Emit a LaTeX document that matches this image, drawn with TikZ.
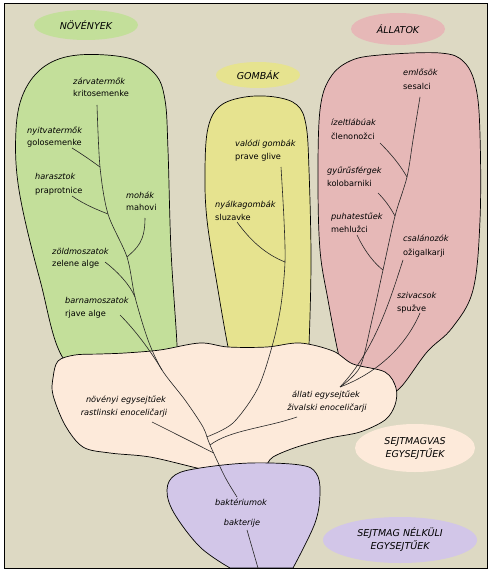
\documentclass[tikz,border=0pt]{standalone}
\usepackage{fontspec}
\setmainfont{DejaVu Sans}
\usetikzlibrary{shapes.geometric}
\definecolor{bg}{HTML}{DDD9C3}
\definecolor{grn}{HTML}{C3DF9A}
\definecolor{ylw}{HTML}{E6E38F}
\definecolor{pnk}{HTML}{E6B8B7}
\definecolor{pch}{HTML}{FDEADA}
\definecolor{lav}{HTML}{D2C6E8}
\tikzset{
  blob/.style={draw=black, line width=0.7pt},
  branch/.style={draw=black!85, line width=0.6pt},
  hu/.style={anchor=base west, font=\fontsize{8.2}{10}\selectfont\itshape, inner sep=0pt},
  sl/.style={anchor=base west, font=\fontsize{8.2}{10}\selectfont, inner sep=0pt},
  huc/.style={anchor=base, font=\fontsize{8.2}{10}\selectfont\itshape, inner sep=0pt},
  ttl/.style={ellipse, inner sep=0pt, align=center, font=\fontsize{9.5}{13}\selectfont\itshape},
}
\begin{document}
\begin{tikzpicture}[x=1pt,y=-1pt]
\useasboundingbox (0,0) rectangle (491,572);
\fill[white] (0,0) rectangle (491,572);
\fill[bg] (4,3) rectangle (487,568);

% title ellipses
\node[ttl, fill=grn, minimum width=104pt, minimum height=30pt] (tnov) at (86,25) {NÖVÉNYEK};
\node[ttl, fill=ylw, minimum width=84pt, minimum height=26pt] (tgom) at (258,75) {GOMBÁK};
\node[ttl, fill=pnk, minimum width=94pt, minimum height=32pt] (tall) at (398,29) {ÁLLATOK};
\node[ttl, fill=pch, minimum width=120pt, minimum height=48pt] (tsej) at (415,448) {SEJTMAGVAS\\EGYSEJTŰEK};
\node[ttl, fill=lav, minimum width=154pt, minimum height=46pt] (tnel) at (400,540) {SEJTMAG NÉLKÜLI\\EGYSEJTŰEK};

% kingdoms
\path[blob, fill=grn] plot[smooth cycle, tension=0.6] coordinates {(66,362) (40,280) (19,190) (16,130) (24,92) (45,66) (78,55) (128,58) (155,74) (165,100) (168,150) (171,250) (177,345) (176,366) (120,372)};
\path[blob, fill=ylw] plot[smooth cycle, tension=0.6] coordinates {(233,366) (228,347) (218,290) (207,220) (205,170) (208,128) (220,106) (245,97) (275,97) (297,105) (306,125) (309,170) (311,260) (309,345) (307,366) (270,372)};
\path[blob, fill=pnk] plot[smooth cycle, tension=0.6] coordinates {(344,372) (338,352) (328,300) (320,250) (318,180) (320,110) (330,78) (350,61) (380,55) (440,53) (464,62) (476,88) (480,135) (480,220) (473,290) (452,328) (427,352) (400,388) (385,392) (360,382)};
\path[blob, fill=pch] plot[smooth cycle, tension=0.55] coordinates {(53,378) (58,361) (75,355) (100,354) (125,353) (160,350) (200,343) (228,347) (267,347) (300,343) (333,351) (353,364) (385,372) (396,388) (395,405) (385,420) (360,432) (330,438) (297,447) (273,457) (262,468) (230,475) (197,468) (150,457) (110,453) (83,447) (65,425) (53,395)};
\path[blob, fill=lav] (230,568) -- plot[smooth, tension=0.6] coordinates {(230,568) (200,547) (174,513) (167,490) (175,475) (200,468) (250,463) (300,465) (316,473) (320,492) (315,523) (293,568)} -- cycle;

% labels
\node[hu] (zarvH) at (73,85) {zárvatermők};
\node[sl] (zarvS) at (73,97) {kritosemenke};
\node[hu] (nyitH) at (27,134) {nyitvatermők};
\node[sl] (nyitS) at (27,146) {golosemenke};
\node[hu] (haraH) at (35,179) {harasztok};
\node[sl] (haraS) at (35,193) {praprotnice};
\node[hu] (mohaH) at (126,198) {mohák};
\node[sl] (mohaS) at (126,210) {mahovi};
\node[hu] (zoldH) at (52,254) {zöldmoszatok};
\node[sl] (zoldS) at (52,266) {zelene alge};
\node[hu] (barnH) at (65,303) {barnamoszatok};
\node[sl] (barnS) at (65,316) {rjave alge};
\node[hu] (valoH) at (235,147) {valódi gombák};
\node[sl] (valoS) at (235,160) {prave glive};
\node[hu] (nyalH) at (215,207) {nyálkagombák};
\node[sl] (nyalS) at (215,220) {sluzavke};
\node[hu] (emloH) at (403,76) {emlősök};
\node[sl] (emloS) at (403,90) {sesalci};
\node[hu] (izelH) at (331,126) {ízeltlábúak};
\node[sl] (izelS) at (331,140) {členonožci};
\node[hu] (gyurH) at (327,174) {gyűrűsférgek};
\node[sl] (gyurS) at (327,186) {kolobarniki};
\node[hu] (puhaH) at (331,219) {puhatestűek};
\node[sl] (puhaS) at (331,232) {mehlužci};
\node[hu] (csalH) at (403,241) {csalánozók};
\node[sl] (csalS) at (403,255) {ožigalkarji};
\node[hu] (szivH) at (397,298) {szivacsok};
\node[sl] (szivS) at (397,311) {spužve};
\node[huc] (noveH) at (126,402) {növényi egysejtűek};
\node[huc] (noveS) at (124,415) {rastlinski enoceličarji};
\node[huc] (allaH) at (326,397) {állati egysejtűek};
\node[huc] (allaS) at (327,410) {živalski enoceličarji};
\node[huc] (baktH) at (241,505) {baktériumok};
\node[huc] (baktS) at (242,525) {bakterije};

% tree coordinates
\coordinate (pz) at (97,105);
\coordinate (j1) at (100,167);
\coordinate (j2) at (108,214);
\coordinate (j3) at (127,257);
\coordinate (j4) at (135,297);
\coordinate (j5) at (162,370);
\coordinate (jf) at (206.5,437);
\coordinate (ja) at (210,445);
\coordinate (jn) at (213.8,453);
\coordinate (bt) at (237,497);
\coordinate (s1) at (72,148);
\coordinate (s2) at (72,196);
\coordinate (s3) at (145,218);
\coordinate (s4) at (105,262);
\coordinate (s5) at (120,315);
\coordinate (s6) at (152,422);
\coordinate (fv) at (281,167);
\coordinate (fj) at (285,262);
\coordinate (s7) at (237,222);
\coordinate (ae) at (420,97);
\coordinate (aj1) at (407,177);
\coordinate (aj2) at (395,216);
\coordinate (aj3) at (383,270);
\coordinate (aa) at (340,387);
\coordinate (s8) at (380,143);
\coordinate (s9) at (378,193);
\coordinate (s10) at (357,235);
\coordinate (s11) at (403,260);
\coordinate (s12) at (420,313);
\coordinate (s13) at (297,417);
\coordinate (b1) at (247,530);
\coordinate (b2) at (258,568);

% plant line and trunk
\draw[branch] plot[smooth] coordinates {(pz) (j1) (j2) (j3) (j4) (148,340) (j5) (185,400) (203,427) (ja) (225,477) (bt)};
\draw[branch] (s1) .. controls (85,156) and (93,162) .. (j1);
\draw[branch] (s2) .. controls (85,205) and (98,210) .. (j2);
\draw[branch] (s3) .. controls (145,242) and (137,248) .. (j3);
\draw[branch] (s4) .. controls (118,272) and (130,285) .. (j4);
\draw[branch] (s5) .. controls (135,330) and (150,350) .. (j5);
\draw[branch] (s6) -- (jn);
% fungi
\draw[branch] plot[smooth] coordinates {(fv) (284,220) (fj) (281,305) (273,343) (258,388) (233,423) (jf)};
\draw[branch] (s7) .. controls (250,240) and (265,254) .. (fj);
% animals
\draw[branch] plot[smooth] coordinates {(ae) (413,140) (aj1) (aj2) (aj3) (372,320) (360,367) (aa)};
\draw[branch] (s8) .. controls (392,155) and (400,165) .. (aj1);
\draw[branch] (s9) .. controls (385,200) and (390,207) .. (aj2);
\draw[branch] (s10) .. controls (365,252) and (375,264) .. (aj3);
\draw[branch] (s11) .. controls (390,300) and (375,350) .. (aa);
\draw[branch] (s12) .. controls (405,348) and (375,374) .. (aa);
\draw[branch] (s13) .. controls (265,428) and (230,430) .. (ja);
% bacteria
\draw[branch] (b1) -- (b2);

\draw[black, line width=0.8pt] (4,3) rectangle (487,568);
\end{tikzpicture}
\end{document}
